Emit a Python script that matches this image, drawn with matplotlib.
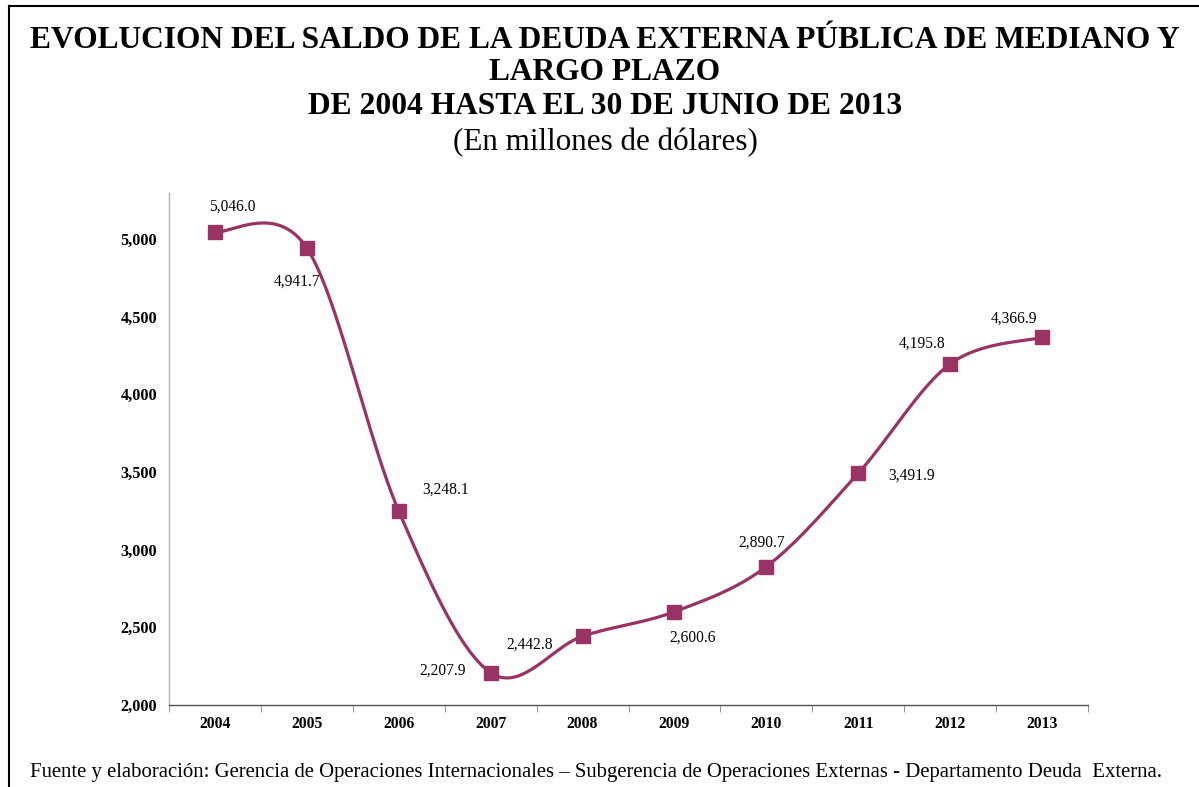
import matplotlib
matplotlib.use("Agg")
import matplotlib.pyplot as plt
from matplotlib.lines import Line2D
from matplotlib.ticker import FuncFormatter
import numpy as np

years = ["2004", "2005", "2006", "2007", "2008", "2009", "2010", "2011", "2012", "2013"]
values = [5046.0, 4941.7, 3248.1, 2207.9, 2442.8, 2600.6, 2890.7, 3491.9, 4195.8, 4366.9]
labels = ["5,046.0", "4,941.7", "3,248.1", "2,207.9", "2,442.8", "2,600.6",
          "2,890.7", "3,491.9", "4,195.8", "4,366.9"]
# label offsets in pixels (dx, dy with dy positive upward)
label_offsets = [(17, 25), (-10, -34), (47, 21), (-48, 2), (-53, -8),
                 (18, -26), (-5, 24), (53, -2), (-28, 20), (-28, 19)]
yticks = [2000, 2500, 3000, 3500, 4000, 4500, 5000]

W, H = 1199, 787
DPI = 100
plt.rcParams['font.family'] = ['Liberation Serif', 'DejaVu Serif']

fig = plt.figure(figsize=(W / DPI, H / DPI), dpi=DPI)
fig.patch.set_facecolor('white')

def fx(px):
    return px / W

def fy(py):
    return 1 - py / H

ax = fig.add_axes([fx(169), fy(705), fx(1088) - fx(169), fy(193) - fy(705)])
ax.set_xlim(-0.5, len(years) - 0.5)
ax.set_ylim(2000, 5296)

color = '#993366'
x = np.arange(len(years))
y = np.array(values)

# Excel-like smoothed line (Bezier through points, computed in display space)
pts = ax.transData.transform(np.column_stack([x, y]))
n = len(pts)
curve = []
for i in range(n - 1):
    p0 = pts[i - 1] if i > 0 else pts[i]
    p1 = pts[i]
    p2 = pts[i + 1]
    p3 = pts[i + 2] if i + 2 < n else pts[i + 1]
    c1 = p1 + (p2 - p0) / 6.0
    c2 = p2 - (p3 - p1) / 6.0
    t = np.linspace(0, 1, 40)[:, None]
    seg = ((1 - t) ** 3) * p1 + 3 * ((1 - t) ** 2) * t * c1 + 3 * (1 - t) * t ** 2 * c2 + t ** 3 * p2
    curve.append(seg if i == 0 else seg[1:])
curve = np.vstack(curve)
curve_data = ax.transData.inverted().transform(curve)
ax.plot(curve_data[:, 0], curve_data[:, 1], color=color, lw=2.3, zorder=2,
        solid_capstyle='round')
ax.plot(x, y, 's', color=color, markersize=9.5, zorder=3)

for xi, yi, lab, (dx, dy) in zip(x, y, labels, label_offsets):
    ax.annotate(lab, (xi, yi), xytext=(dx * 72 / DPI, dy * 72 / DPI),
                textcoords='offset points', ha='center', va='center',
                fontsize=11.2, color='black')

ax.set_xticks(x)
ax.set_xticklabels(years, fontweight='bold', fontsize=11.3)
ax.set_xticks(np.arange(-0.5, len(years)), minor=True)
ax.tick_params(axis='x', which='major', length=0, pad=8)
ax.tick_params(axis='x', which='minor', length=5, color='#808080', direction='out')
ax.set_yticks(yticks)
ax.yaxis.set_major_formatter(FuncFormatter(lambda v, p: f"{int(v):,}"))
ax.tick_params(axis='y', length=0, pad=8.6, labelsize=11.7)
for lab in ax.get_yticklabels():
    lab.set_fontweight('bold')
ax.spines['top'].set_visible(False)
ax.spines['right'].set_visible(False)
ax.spines['left'].set_color('#b0b0b0')
ax.spines['bottom'].set_color('#505050')
ax.spines['left'].set_linewidth(1)
ax.spines['bottom'].set_linewidth(1)

# Titles
fig.text(fx(605), fy(40), "EVOLUCION DEL SALDO DE LA DEUDA EXTERNA PÚBLICA DE MEDIANO Y",
         ha='center', va='center', fontsize=22.7, fontweight='bold')
fig.text(fx(605), fy(73), "LARGO PLAZO", ha='center', va='center', fontsize=22.7, fontweight='bold')
fig.text(fx(605), fy(107), "DE 2004 HASTA EL 30 DE JUNIO DE 2013",
         ha='center', va='center', fontsize=22.7, fontweight='bold')
fig.text(fx(605), fy(143), "(En millones de dólares)", ha='center', va='center', fontsize=22.4)

fig.text(fx(30), fy(773),
         "Fuente y elaboración: Gerencia de Operaciones Internacionales – Subgerencia de Operaciones Externas - Departamento Deuda  Externa.",
         ha='left', va='center', fontsize=14.95)

# Border lines (left and top)
fig.add_artist(Line2D([fx(9), fx(9)], [0, fy(6)], transform=fig.transFigure, color='black', lw=1.5))
fig.add_artist(Line2D([fx(9), 1], [fy(6), fy(6)], transform=fig.transFigure, color='black', lw=1.5))

fig.savefig("out.png", dpi=DPI)
